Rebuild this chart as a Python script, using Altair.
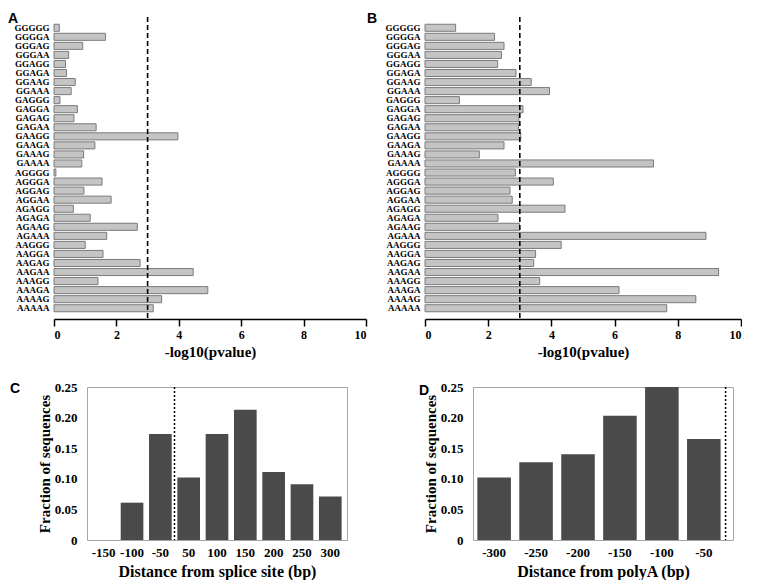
import altair as alt
import pandas as pd

# ---------------- data ----------------
kmers = ["GGGGG", "GGGGA", "GGGAG", "GGGAA", "GGAGG", "GGAGA", "GGAAG", "GGAAA",
         "GAGGG", "GAGGA", "GAGAG", "GAGAA", "GAAGG", "GAAGA", "GAAAG", "GAAAA",
         "AGGGG", "AGGGA", "AGGAG", "AGGAA", "AGAGG", "AGAGA", "AGAAG", "AGAAA",
         "AAGGG", "AAGGA", "AAGAG", "AAGAA", "AAAGG", "AAAGA", "AAAAG", "AAAAA"]
pval_a = [0.17, 1.65, 0.92, 0.47, 0.37, 0.40, 0.68, 0.55,
          0.19, 0.75, 0.64, 1.35, 3.97, 1.31, 0.95, 0.89,
          0.06, 1.54, 0.96, 1.83, 0.62, 1.16, 2.67, 1.69,
          1.00, 1.57, 2.76, 4.46, 1.41, 4.93, 3.45, 3.18]
pval_b = [0.97, 2.20, 2.50, 2.42, 2.30, 2.88, 3.36, 3.94,
          1.09, 3.10, 2.97, 2.96, 3.03, 2.50, 1.72, 7.23,
          2.86, 4.06, 2.69, 2.76, 4.43, 2.31, 2.99, 8.89,
          4.31, 3.50, 3.44, 9.29, 3.63, 6.14, 8.57, 7.65]
threshold = 3.0
x_ticks_ab = [0, 2, 4, 6, 8, 10]

splice_bins = ["-150", "-100", "-50", "50", "100", "150", "200", "250", "300"]
splice_frac = [0.0, 0.061, 0.173, 0.102, 0.173, 0.213, 0.111, 0.091, 0.071]
splice_cut = "-50"
polya_bins = ["-300", "-250", "-200", "-150", "-100", "-50"]
polya_frac = [0.102, 0.127, 0.140, 0.203, 0.250, 0.165]
polya_cut = "-50"
y_ticks_cd = [0, 0.05, 0.10, 0.15, 0.20, 0.25]

SERIF = "Liberation Serif"
SANS = "Liberation Sans"


def letter_layer(letter, dx, dy):
    return alt.Chart(pd.DataFrame({"t": [letter]})).mark_text(
        font=SANS, fontSize=14, fontWeight="bold", align="left",
        baseline="top", color="black"
    ).encode(text="t:N", x=alt.value(dx), y=alt.value(dy))


def spacer(width):
    # invisible, empty cell used only to offset the lower row horizontally
    return alt.Chart(pd.DataFrame({"v": [0]})).mark_rect(opacity=0).encode(
        x=alt.value(0), x2=alt.value(width), y=alt.value(0), y2=alt.value(1)
    ).properties(width=width, height=1, view=alt.ViewBackground(strokeWidth=0))


def kmer_panel(letter, values, width, height, letter_dx):
    df = pd.DataFrame({"kmer": kmers, "value": values})
    xscale = alt.Scale(domain=[0, 10], nice=False)
    xaxis = alt.Axis(values=x_ticks_ab, format="d", grid=False,
                     domainColor="black", domainWidth=1.5,
                     tickColor="black", tickWidth=1.5, tickSize=7,
                     labelPadding=3, labelFont=SERIF, labelFontSize=12,
                     labelFontWeight="bold", labelColor="black",
                     titleFont=SERIF, titleFontSize=15, titleFontWeight="bold",
                     titleColor="black", titlePadding=4)
    yaxis = alt.Axis(title=None, domain=False, ticks=False, labelPadding=5,
                     labelFont=SERIF, labelFontSize=9, labelFontWeight="bold",
                     labelColor="black")
    bars = alt.Chart(df).mark_bar(fill="#c4c4c4", stroke="#7a7a7a", strokeWidth=1).encode(
        x=alt.X("value:Q", scale=xscale, axis=xaxis, title="-log10(pvalue)"),
        y=alt.Y("kmer:N", sort=kmers,
                scale=alt.Scale(domain=kmers, paddingInner=0.22, paddingOuter=0.8),
                axis=yaxis),
    )
    rule = alt.Chart(pd.DataFrame({"value": [threshold]})).mark_rule(
        color="black", strokeDash=[5, 3], strokeWidth=1.6
    ).encode(x=alt.X("value:Q", title="-log10(pvalue)"))
    return alt.layer(bars, rule, letter_layer(letter, letter_dx, -5)).properties(
        width=width, height=height, view=alt.ViewBackground(strokeWidth=0))


def dist_panel(letter, cats, values, cut, cut_offset, xtitle, width, height,
               po, align, letter_dx, letter_dy):
    df = pd.DataFrame({"cat": cats, "frac": values})
    xscale = alt.Scale(domain=cats, paddingInner=0.2, paddingOuter=po, align=align)
    xaxis = alt.Axis(labelAngle=0, domain=False, ticks=False, labelPadding=6,
                     labelFont=SERIF, labelFontSize=13, labelFontWeight="bold",
                     labelColor="black", titleFont=SERIF, titleFontSize=16,
                     titleFontWeight="bold", titleColor="black", titlePadding=4)
    yaxis = alt.Axis(values=y_ticks_cd,
                     labelExpr="datum.value == 0 ? '0' : format(datum.value, '.2f')",
                     grid=False, domain=False, ticks=False, labelPadding=10,
                     labelFont=SERIF, labelFontSize=13, labelFontWeight="bold",
                     labelColor="black", titleFont=SERIF, titleFontSize=15,
                     titleFontWeight="bold", titleColor="black", titlePadding=2)
    bars = alt.Chart(df).mark_bar(color="#4a4a4a").encode(
        x=alt.X("cat:N", scale=xscale, axis=xaxis, title=xtitle),
        y=alt.Y("frac:Q", scale=alt.Scale(domain=[0, 0.25], nice=False),
                axis=yaxis, title="Fraction of sequences"),
    )
    rule = alt.Chart(pd.DataFrame({"cat": [cut]})).mark_rule(
        color="black", strokeDash=[2, 2], strokeWidth=1.5, xOffset=cut_offset
    ).encode(x=alt.X("cat:N", bandPosition=1, title=xtitle))
    return alt.layer(bars, rule, letter_layer(letter, letter_dx, letter_dy)).properties(
        width=width, height=height,
        view=alt.ViewBackground(stroke="#a6a6a6", strokeWidth=1))


pa = kmer_panel("A", pval_a, 312, 302, -46)
pb = kmer_panel("B", pval_b, 316, 302, -58)
pc = dist_panel("C", splice_bins, splice_frac, splice_cut, 2.8,
                "Distance from splice site (bp)", 260, 153, 0.19, 0.5, -77, -5)
pd_ = dist_panel("D", polya_bins, polya_frac, polya_cut, 5,
                 "Distance from polyA (bp)", 260, 153, 0.2, 0.26, -54, -3)

chart = alt.vconcat(
    alt.hconcat(pa, pb, spacing=0),
    alt.hconcat(alt.hconcat(spacer(1), pc, spacing=-46), pd_, spacing=70),
    spacing=21,
).properties(padding={"top": 4, "left": 0, "right": 0, "bottom": 0}).configure(
    background="white")

chart.save("out.html", embed_options={"renderer": "svg", "actions": False})
